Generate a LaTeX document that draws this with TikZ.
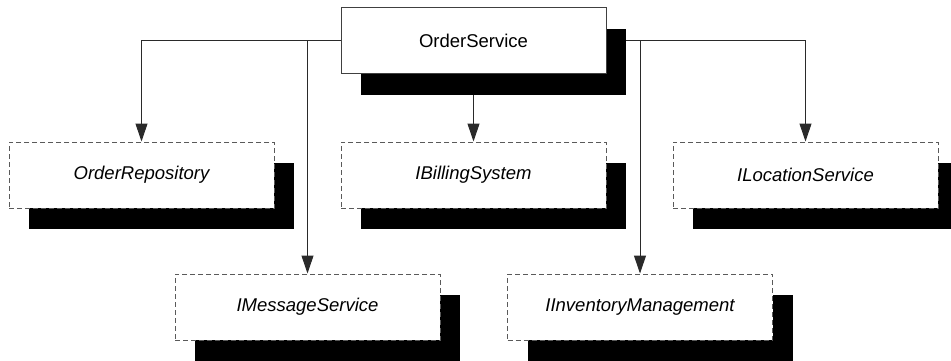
\documentclass[tikz,border=0pt]{standalone}
\usepackage{fontspec}
\setmainfont{Liberation Sans}
\usetikzlibrary{arrows.meta,shadows}
\pgfdeclarelayer{edges}
\pgfsetlayers{edges,main}
\definecolor{boxline}{HTML}{404040}
\definecolor{dashline}{HTML}{5A5A5A}
\definecolor{conn}{HTML}{2A2A2A}
\tikzset{
  base/.style={rectangle, fill=white, minimum width=265pt, minimum height=66pt, inner sep=0pt,
    line width=1pt, font=\fontsize{18.5}{22}\selectfont,
    drop shadow={shadow xshift=20pt, shadow yshift=-21pt, fill=black, opacity=1}},
  cls/.style={base, draw=boxline},
  iface/.style={base, draw=dashline, dash pattern=on 5pt off 3pt, font=\fontsize{18.5}{22}\selectfont\itshape},
  conn/.style={draw=conn, line width=1pt, -{Triangle[length=18pt,width=12pt]}}
}
\begin{document}
\begin{tikzpicture}[x=1pt,y=-1pt]
\useasboundingbox (0,0) rectangle (951,361);
\node[cls] (os) at (473.5,41) {OrderService};
\node[iface] (repo) at (141.5,175) {OrderRepository};
\node[iface] (bill) at (473.5,175) {IBillingSystem};
\node[iface] (loc) at (805.5,175) {ILocationService};
\node[iface] (msg) at (307.5,307) {IMessageService};
\node[iface] (inv) at (640,307) {IInventoryManagement};
\begin{pgfonlayer}{edges}
\draw[conn] (os.center) -| (repo.north);
\draw[conn] (os.center) -| (msg.north);
\draw[conn] (os.center) -- (bill.north);
\draw[conn] (os.center) -| (inv.north);
\draw[conn] (os.center) -| (loc.north);
\end{pgfonlayer}
\end{tikzpicture}
\end{document}
